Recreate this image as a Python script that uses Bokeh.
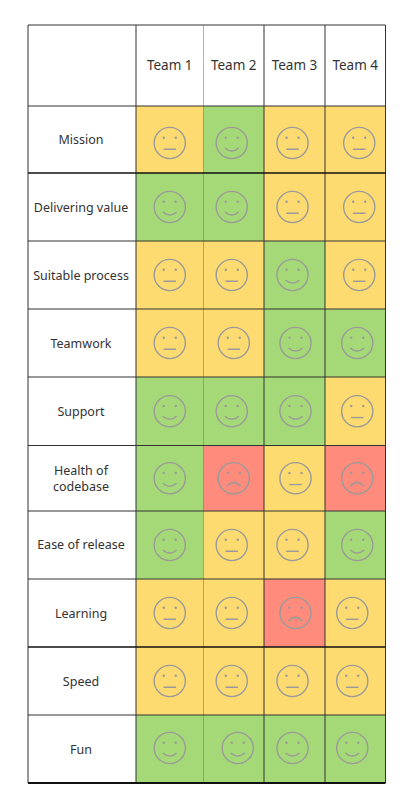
from bokeh.plotting import figure
from bokeh.models import ColumnDataSource, Range1d
from bokeh.core.properties import value
from bokeh.embed import file_html
from bokeh.resources import INLINE

# ---- data ----
teams = ["Team 1", "Team 2", "Team 3", "Team 4"]
categories = ["Mission", "Delivering value", "Suitable process", "Teamwork", "Support",
              "Health of\ncodebase", "Ease of release", "Learning", "Speed", "Fun"]
team_1 = ["ok", "good", "ok", "ok", "good", "good", "good", "ok", "ok", "good"]
team_2 = ["good", "good", "ok", "ok", "good", "bad", "ok", "ok", "ok", "good"]
team_3 = ["ok", "ok", "good", "good", "good", "ok", "ok", "bad", "ok", "good"]
team_4 = ["ok", "ok", "ok", "good", "ok", "bad", "good", "ok", "ok", "good"]
statuses = [team_1, team_2, team_3, team_4]

# ---- layout (page pixels) ----
COL_EDGES = [27.5, 135.5, 203, 263.5, 324.5, 385]
ROW_EDGES = [24.5, 105.5, 172.5, 240.5, 308.5, 376.5, 445, 510.5, 578.5, 646.5, 714.5, 782.5]
NUDGE_X = [[0, -2, -2, 4], [0, -2, -2, 4], [0, -2, -2, 4], [0, 0, 1, 2], [0, -2, 1, 2],
           [0, 0, 1, 2], [0, -2, -2, 2], [0, -2, 1, -3], [0, -2, -2, -3], [0, 4, -2, -3]]
NUDGE_Y = [3.5, 0, 0, 0, 0, 0, 0, 0, 0, -1]
FILL = {"good": "#A5D977", "ok": "#FEDB70", "bad": "#FE8B7B"}
R = 15.6
FACE = "#9a9a98"

p = figure(width=412, height=810, output_backend="svg", toolbar_location=None,
           x_range=Range1d(0, 412), y_range=Range1d(810, 0),
           min_border=0, outline_line_color=None, background_fill_color="white", border_fill_color="white")
p.axis.visible = False
p.grid.visible = False

# cells
cell = dict(l=[], r=[], t=[], b=[], c=[])
face = dict(x=[], y=[])
mouth = {k: [] for k in ("x0", "y0", "x1", "y1", "cx", "cy")}
eyes = dict(x=[], y=[])
for ci, col in enumerate(statuses):
    for ri, s in enumerate(col):
        cell["l"].append(COL_EDGES[ci + 1]); cell["r"].append(COL_EDGES[ci + 2])
        cell["t"].append(ROW_EDGES[ri + 1]); cell["b"].append(ROW_EDGES[ri + 2])
        cell["c"].append(FILL[s])
        x = (COL_EDGES[ci + 1] + COL_EDGES[ci + 2]) / 2 + NUDGE_X[ri][ci]
        y = (ROW_EDGES[ri + 1] + ROW_EDGES[ri + 2]) / 2 + NUDGE_Y[ri]
        face["x"].append(x); face["y"].append(y)
        eyes["x"] += [x - 6, x + 6]; eyes["y"] += [y - 5.3, y - 5.3]
        half = 6.3 if s == "ok" else 7
        mouth["x0"].append(x - half); mouth["x1"].append(x + half); mouth["cx"].append(x)
        if s == "good":
            mouth["y0"].append(y + 5); mouth["y1"].append(y + 5); mouth["cy"].append(y + 11)
        elif s == "ok":
            mouth["y0"].append(y + 6.3); mouth["y1"].append(y + 6.3); mouth["cy"].append(y + 6.3)
        else:
            mouth["y0"].append(y + 8); mouth["y1"].append(y + 8); mouth["cy"].append(y + 0.5)
p.quad(left="l", right="r", top="t", bottom="b", fill_color="c", line_color=None,
       source=ColumnDataSource(cell))

# faces
p.circle(x="x", y="y", radius=R, fill_color=None, line_color=FACE, line_width=1.4,
         source=ColumnDataSource(face))
p.circle(x="x", y="y", radius=1.2, fill_color=FACE, line_color=None, source=ColumnDataSource(eyes))
p.quadratic(x0="x0", y0="y0", x1="x1", y1="y1", cx="cx", cy="cy", line_color=FACE, line_width=1.4,
            source=ColumnDataSource(mouth))

# grid lines
L, Rr = COL_EDGES[0], COL_EDGES[-1]
T, B = ROW_EDGES[0], ROW_EDGES[-1]
p.segment(x0=COL_EDGES, y0=[T] * 6, x1=COL_EDGES, y1=[B] * 6,
          line_color=["#333", "#333", "#555", "#333", "#333", "#333"],
          line_alpha=[1, 1, 0.45, 1, 1, 1], line_width=1)
hw = [1, 1, 1.6, 1, 1, 1, 1, 1, 1, 1.6, 1, 2]
p.segment(x0=[L] * 12, y0=ROW_EDGES, x1=[Rr] * 12, y1=ROW_EDGES,
          line_color=["#111" if w > 1 else "#333" for w in hw], line_width=hw)

# texts
p.text(x=[(COL_EDGES[i] + COL_EDGES[i + 1]) / 2 for i in range(1, 5)],
       y=[(ROW_EDGES[0] + ROW_EDGES[1]) / 2 - 1] * 4, text=teams,
       text_font=value("Noto Sans"), text_font_size=value("13.5px"), text_color="#333",
       text_align="center", text_baseline="middle")
p.text(x=[(COL_EDGES[0] + COL_EDGES[1]) / 2 - 1] * 10,
       y=[(ROW_EDGES[i] + ROW_EDGES[i + 1]) / 2 - (1 if i == 7 else 0) for i in range(1, 11)],
       text=categories, text_font=value("Noto Sans"), text_font_size=value("12.5px"), text_color="#333",
       text_align="center", text_baseline="middle", text_line_height=0.95)

open("out.html", "w").write(file_html(p, INLINE))
